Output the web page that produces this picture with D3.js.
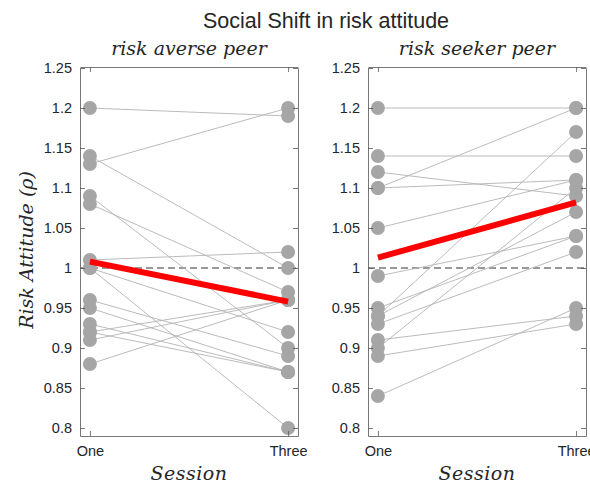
<!DOCTYPE html>
<html>
<head>
<meta charset="UTF-8">
<title>Social Shift in risk attitude</title>
<style>
  body { margin: 0; background: #fff; }
  svg text { fill: #262626; }
</style>
</head>
<body>
<div id="chart"></div>
<script src="https://d3js.org/d3.v7.min.js"></script>
<script>
// sessions on the x axis
var sessions = [1, 3];
var sessionLabels = ["One", "Three"];

// y ticks
var yTicks = [0.8, 0.85, 0.9, 0.95, 1, 1.05, 1.1, 1.15, 1.2, 1.25];
var yTickLabels = ["0.8", "0.85", "0.9", "0.95", "1", "1.05", "1.1", "1.15", "1.2", "1.25"];

// risk averse peer: session One -> session Three for each subject
var averseOne   = [1.20, 1.13, 1.14, 1.09, 1.08, 1.01, 1.00, 1.00, 0.96, 0.95, 0.93, 0.92, 0.92, 0.91, 0.88];
var averseThree = [1.19, 1.20, 1.00, 0.90, 0.97, 1.02, 0.92, 0.80, 0.89, 0.87, 0.87, 0.96, 0.87, 0.96, 0.96];
var averseMean  = [1.008, 0.958];

// risk seeker peer
var seekerOne   = [1.20, 1.14, 1.12, 1.10, 1.10, 1.05, 0.99, 0.95, 0.94, 0.94, 0.93, 0.91, 0.90, 0.89, 0.84];
var seekerThree = [1.20, 1.14, 1.09, 1.20, 1.11, 1.11, 1.04, 1.04, 1.17, 1.07, 1.02, 0.94, 1.10, 0.93, 0.95];
var seekerMean  = [1.013, 1.082];

var width = 590, height = 486;

var svg = d3.select("#chart").append("svg")
  .attr("width", width)
  .attr("height", height);

var y = d3.scaleLinear().domain([0.79, 1.25]).range([436, 68]);

var panels = [
  { title: "risk averse peer", one: averseOne, three: averseThree, mean: averseMean, left: 80, right: 298 },
  { title: "risk seeker peer", one: seekerOne, three: seekerThree, mean: seekerMean, left: 368, right: 586 }
];

svg.append("text")
  .attr("x", 326)
  .attr("y", 28)
  .attr("text-anchor", "middle")
  .attr("font-family", "Liberation Sans, Arial, sans-serif")
  .attr("font-size", "21.5px")
  .text("Social Shift in risk attitude");

// y label
svg.append("text")
  .attr("transform", "translate(33,250) rotate(-90)")
  .attr("text-anchor", "middle")
  .attr("font-family", "DejaVu Serif, serif")
  .attr("font-style", "italic")
  .attr("font-size", "19px")
  .text("Risk Attitude (ρ)");

panels.forEach(function(p) {
  var x = d3.scaleLinear().domain([0.9, 3.1]).range([p.left, p.right]);
  var g = svg.append("g");
  var cx = (p.left + p.right) / 2;

  // dashed reference at 1
  g.append("line")
    .attr("x1", p.left).attr("x2", p.right)
    .attr("y1", y(1)).attr("y2", y(1))
    .attr("stroke", "#777")
    .attr("stroke-width", 1.3)
    .attr("stroke-dasharray", "7,4");

  var pairs = p.one.map(function(v, i) { return [v, p.three[i]]; });

  // subject lines
  g.selectAll("line.subj")
    .data(pairs)
    .join("line")
    .attr("class", "subj")
    .attr("x1", x(sessions[0])).attr("x2", x(sessions[1]))
    .attr("y1", function(d) { return y(d[0]); })
    .attr("y2", function(d) { return y(d[1]); })
    .attr("stroke", "#b3b3b3")
    .attr("stroke-width", 0.9);

  // points
  var pts = [];
  pairs.forEach(function(d) {
    pts.push({ s: sessions[0], v: d[0] });
    pts.push({ s: sessions[1], v: d[1] });
  });
  g.selectAll("circle")
    .data(pts)
    .join("circle")
    .attr("cx", function(d) { return x(d.s); })
    .attr("cy", function(d) { return y(d.v); })
    .attr("r", 7)
    .attr("fill", "#a6a6a6");

  // mean line
  g.append("line")
    .attr("x1", x(sessions[0])).attr("x2", x(sessions[1]))
    .attr("y1", y(p.mean[0])).attr("y2", y(p.mean[1]))
    .attr("stroke", "#ff0000")
    .attr("stroke-width", 6);

  // axes
  var fmt = function(d) { return yTickLabels[yTicks.indexOf(d)]; };
  var ax = [
    g.append("g").attr("transform", "translate(" + p.left + ",0)")
      .call(d3.axisLeft(y).tickValues(yTicks).tickFormat(fmt).tickSizeInner(-5).tickSizeOuter(0).tickPadding(8)),
    g.append("g").attr("transform", "translate(" + p.right + ",0)")
      .call(d3.axisRight(y).tickValues(yTicks).tickFormat("").tickSizeInner(-5).tickSizeOuter(0)),
    g.append("g").attr("transform", "translate(0," + 436 + ")")
      .call(d3.axisBottom(x).tickValues(sessions).tickFormat(function(d, i) { return sessionLabels[i]; })
        .tickSizeInner(-5).tickSizeOuter(0).tickPadding(10)),
    g.append("g").attr("transform", "translate(0," + 67 + ")")
      .call(d3.axisTop(x).tickValues(sessions).tickFormat("").tickSizeInner(-5).tickSizeOuter(0))
  ];
  ax.forEach(function(a) {
    a.selectAll("path, line").attr("stroke", "#555").attr("stroke-width", 0.8);
    a.selectAll("text")
      .attr("font-family", "Liberation Sans, Arial, sans-serif")
      .attr("font-size", "14.5px")
      .attr("fill", "#262626");
  });

  // panel title
  svg.append("text")
    .attr("x", cx)
    .attr("y", 55)
    .attr("text-anchor", "middle")
    .attr("font-family", "DejaVu Serif, serif")
    .attr("font-style", "italic")
    .attr("font-size", "19px")
    .text(p.title);

  // x label
  svg.append("text")
    .attr("x", cx)
    .attr("y", 480)
    .attr("text-anchor", "middle")
    .attr("font-family", "DejaVu Serif, serif")
    .attr("font-style", "italic")
    .attr("font-size", "19px")
    .attr("letter-spacing", "0.5px")
    .text("Session");
});
</script>
</body>
</html>
